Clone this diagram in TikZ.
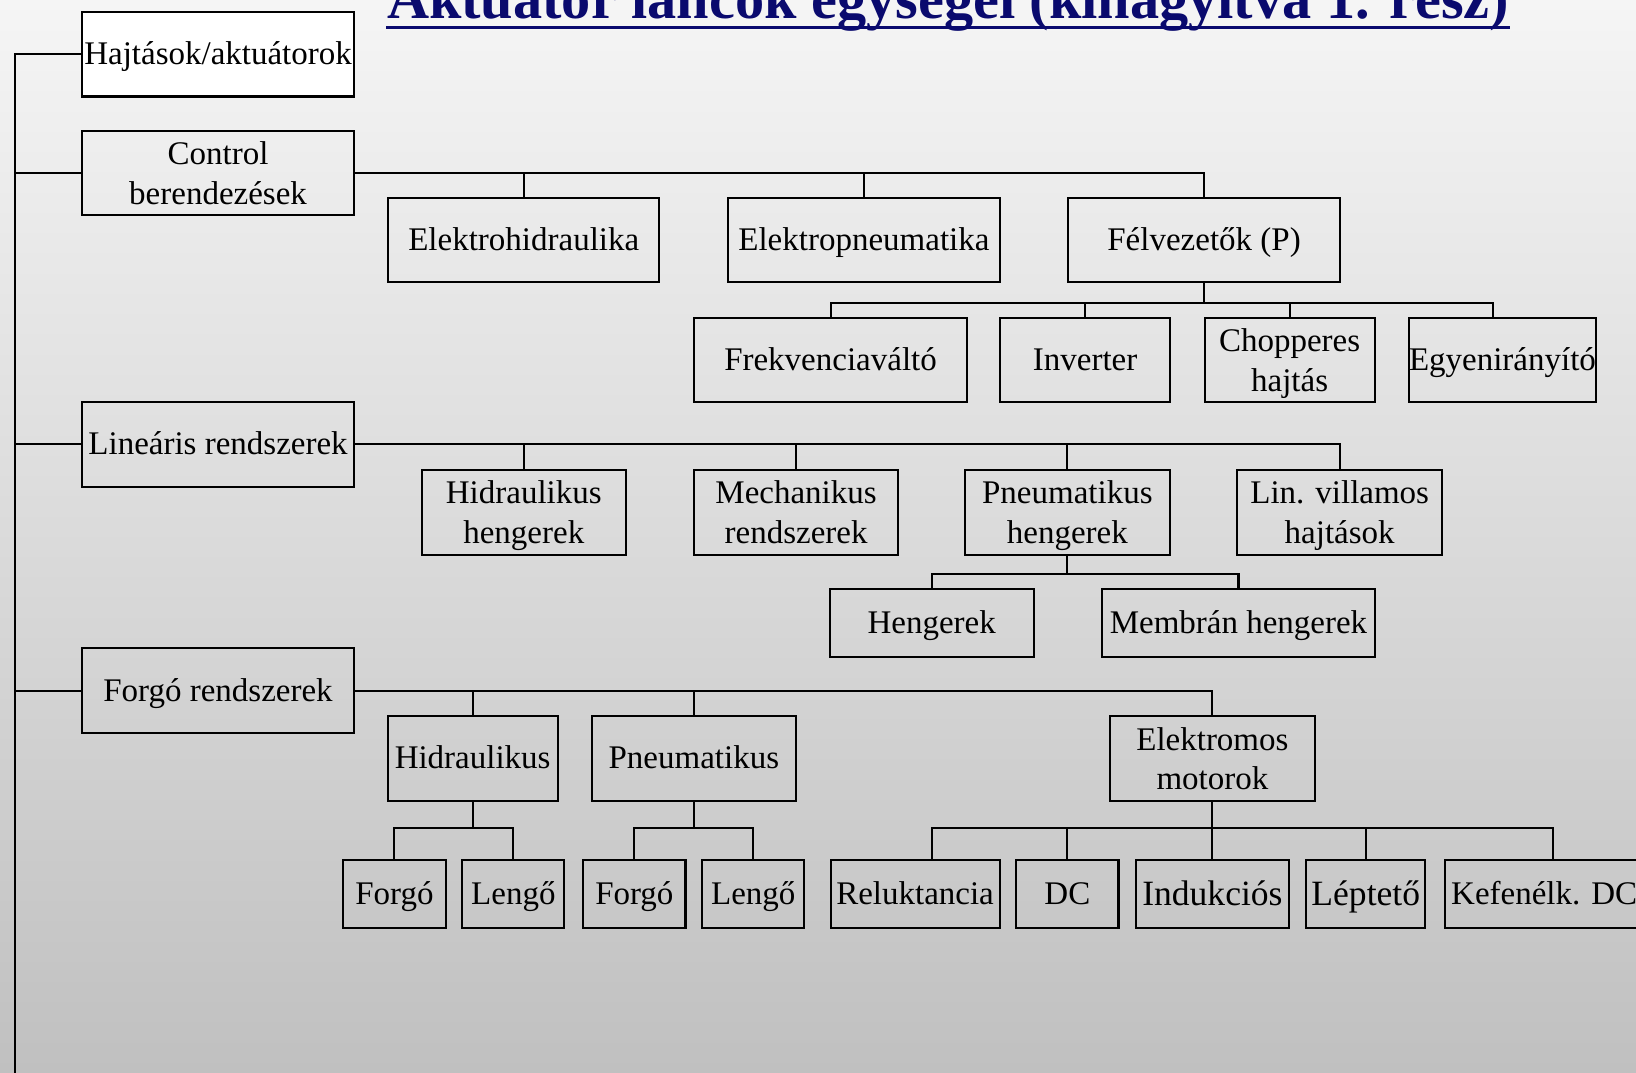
\documentclass[tikz,border=0pt]{standalone}
\usepackage{fontspec}
\setmainfont{Liberation Serif}

\definecolor{titleblue}{RGB}{10,10,110}

\begin{document}
\begin{tikzpicture}[x=0.02cm,y=-0.02cm,line width=1.1pt,
    box/.style={draw,rectangle,inner sep=0pt,minimum height=1.62cm,align=center,font=\fontsize{18}{21.6}\selectfont},
    lowbox/.style={box,minimum height=1.3cm},
    sline/.style={text height=12.4pt,text depth=1pt},
    bigger/.style={font=\fontsize{19.4}{23}\selectfont,text height=13.4pt,text depth=1pt}]
        \useasboundingbox (0,0) rectangle (1568,1028);
        \shade[top color={rgb,255:red,245;green,245;blue,245},bottom color={rgb,255:red,192;green,192;blue,192}] (0,0) rectangle (1568,1028);
        % title
        \draw (370,18) node[anchor=base west,inner sep=0pt,text=titleblue,font=\fontsize{31.8}{38}\selectfont\bfseries] (title) {Aktuátor láncok egységei (kinagyítva 1. rész)};
        \draw[titleblue,line width=1.7pt] ([yshift=-0.17cm]title.base west) -- ([yshift=-0.17cm]title.base east);
        % main column
        \draw (209,52)  node[box,sline,fill=white,minimum width=5.2cm] (hajt) {Hajtások/aktuátorok};
        \draw (209,166) node[box,minimum width=5.2cm] (ctrl) {Control\\berendezések};
        \draw (209,426) node[box,sline,minimum width=5.2cm] (lin) {Lineáris rendszerek};
        \draw (209,662) node[box,sline,minimum width=5.2cm] (forg) {Forgó rendszerek};
        \coordinate (trunkend) at (14,1028);
        % control
        \draw (502,230)  node[box,sline,minimum width=5.2cm] (elh) {Elektrohidraulika};
        \draw (828,230)  node[box,sline,minimum width=5.2cm] (elp) {Elektropneumatika};
        \draw (1154,230) node[box,sline,minimum width=5.22cm] (felv) {Félvezetők (P)};
        \draw (796,345)  node[box,sline,minimum width=5.22cm] (frek) {Frekvenciaváltó};
        \draw (1040,345) node[box,sline,minimum width=3.26cm] (inv) {Inverter};
        \draw (1236,345) node[box,minimum width=3.26cm] (chop) {Chopperes\\\smash{hajtás}};
        \draw (1440,345) node[box,sline,minimum width=3.6cm] (egy) {Egyenirányító};
        % linear
        \draw (502,491)  node[box,minimum width=3.92cm] (hidh) {Hidraulikus\\\smash{hengerek}};
        \draw (763,491)  node[box,minimum width=3.92cm] (mech) {Mechanikus\\rendszerek};
        \draw (1023,491) node[box,minimum width=3.92cm] (pneh) {Pneumatikus\\\smash{hengerek}};
        \draw (1284,491) node[box,minimum width=3.92cm] (linv) {Lin. villamos\\\smash{hajtások}};
        \draw (893,597)  node[lowbox,sline,minimum width=3.92cm] (heng) {Hengerek};
        \draw (1187,597) node[lowbox,sline,minimum width=5.22cm] (memb) {Membrán hengerek};
        % rotating
        \draw (453,727)  node[box,sline,minimum width=3.26cm] (hidr) {Hidraulikus};
        \draw (665,727)  node[box,sline,minimum width=3.92cm] (pneu) {Pneumatikus};
        \draw (1162,727) node[box,minimum width=3.92cm] (elm) {Elektromos\\motorok};
        \draw (378,857)  node[lowbox,sline,minimum width=1.96cm] (forga) {Forgó};
        \draw (492,857)  node[lowbox,sline,minimum width=1.96cm] (lenga) {Lengő};
        \draw (608,857)  node[lowbox,sline,minimum width=1.96cm] (forgb) {Forgó};
        \draw (722,857)  node[lowbox,sline,minimum width=1.96cm] (lengb) {Lengő};
        \draw (877,857)  node[lowbox,sline,minimum width=3.24cm] (rel) {Reluktancia};
        \draw (1023,857) node[lowbox,sline,minimum width=1.96cm] (dc) {DC};
        \draw (1162,857) node[lowbox,bigger,minimum width=2.92cm] (ind) {Indukciós};
        \draw (1309,857) node[lowbox,bigger,minimum width=2.28cm] (lept) {Léptető};
        \draw (1480,857) node[lowbox,sline,minimum width=3.8cm] (kef) {Kefenélk. DC};
        % trunk
        \draw (hajt.west) -| (trunkend);
        \draw (ctrl.west) -- (ctrl.west -| trunkend)
              (lin.west)  -- (lin.west -| trunkend)
              (forg.west) -- (forg.west -| trunkend);
        % control branches
        \draw (ctrl.east) -| (felv.north)
              (elh.north) |- (ctrl.east)
              (elp.north) |- (ctrl.east);
        \draw (felv.south) -- ++(0,19) coordinate (fbus);
        \draw (frek.north) |- (fbus)
              (inv.north)  |- (fbus)
              (chop.north) |- (fbus)
              ([xshift=-0.18cm]egy.north) |- (fbus);
        % linear branches
        \draw (lin.east) -| (linv.north)
              (hidh.north) |- (lin.east)
              (mech.north) |- (lin.east)
              (pneh.north) |- (lin.east);
        \draw (pneh.south) -- ++(0,18) coordinate (pbus);
        \draw (heng.north) |- (pbus)
              (memb.north) |- (pbus);
        % rotating branches
        \draw (forg.east) -| (elm.north)
              (hidr.north) |- (forg.east)
              (pneu.north) |- (forg.east);
        \draw (hidr.south) -- ++(0,25) coordinate (hbus);
        \draw (forga.north) |- (hbus)
              (lenga.north) |- (hbus);
        \draw (pneu.south) -- ++(0,25) coordinate (nbus);
        \draw (forgb.north) |- (nbus)
              (lengb.north) |- (nbus);
        \draw (elm.south) -- ++(0,25) coordinate (ebus);
        \draw ([xshift=0.32cm]rel.north) |- (ebus)
              (dc.north)   |- (ebus)
              (ind.north)  |- (ebus)
              (lept.north) |- (ebus)
              ([xshift=0.16cm]kef.north)  |- (ebus);
\end{tikzpicture}
\end{document}
